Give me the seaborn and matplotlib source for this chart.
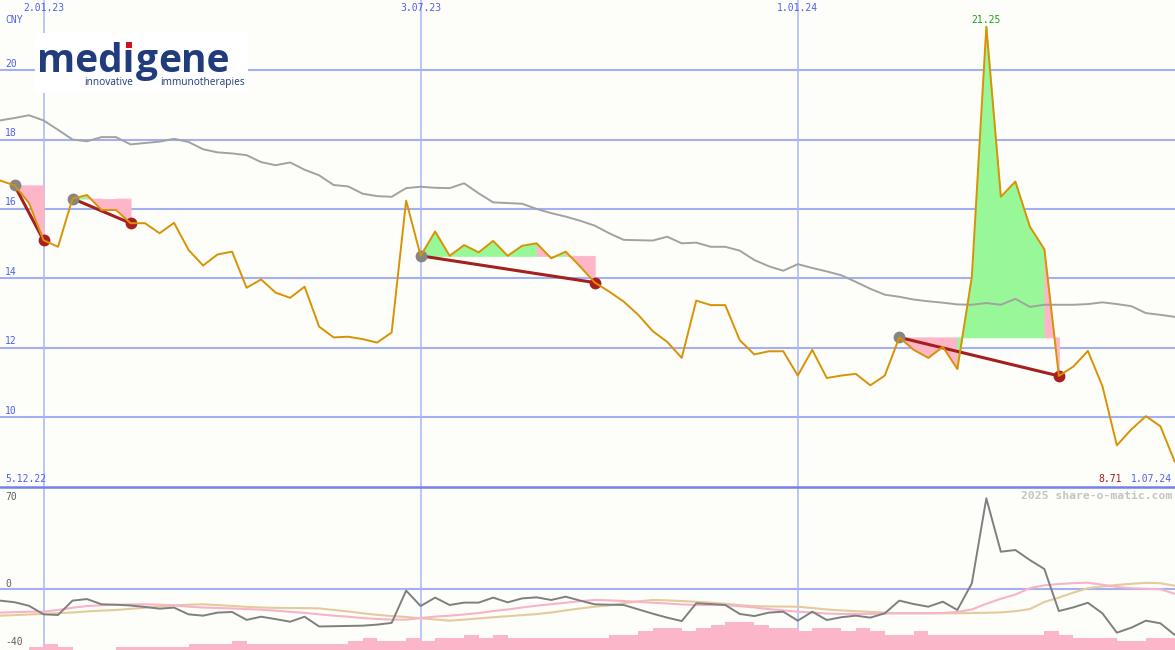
import numpy as np
import pandas as pd
import matplotlib
matplotlib.use("Agg")
import matplotlib.pyplot as plt
import matplotlib.dates as mdates
import matplotlib.transforms as mtransforms
from matplotlib.patches import Rectangle
from matplotlib.lines import Line2D
import seaborn as sns

# ---------------- data ----------------
dates = pd.date_range("2022-12-12", periods=82, freq="7D")

price = [16.82, 16.68, 16.17, 15.10, 14.91, 16.30, 16.40, 15.97, 15.97, 15.59,
         15.59, 15.30, 15.60, 14.82, 14.37, 14.69, 14.77, 13.73, 13.97, 13.59,
         13.44, 13.76, 12.61, 12.30, 12.32, 12.25, 12.15, 12.44, 16.24, 14.65,
         15.35, 14.65, 14.96, 14.75, 15.08, 14.65, 14.94, 15.01, 14.58, 14.77,
         14.34, 13.88, 13.62, 13.33, 12.95, 12.48, 12.17, 11.71, 13.36, 13.23,
         13.23, 12.22, 11.81, 11.90, 11.90, 11.20, 11.94, 11.13, 11.20, 11.25,
         10.92, 11.20, 12.30, 11.94, 11.71, 12.03, 11.39, 14.04, 21.25, 16.35,
         16.79, 15.49, 14.84, 11.19, 11.46, 11.91, 10.90, 9.19, 9.65, 10.03,
         9.74, 8.71]

moving_avg = [18.55, 18.62, 18.70, 18.55, 18.28, 18.00, 17.95, 18.07, 18.07, 17.86,
              17.90, 17.94, 18.02, 17.93, 17.72, 17.63, 17.60, 17.55, 17.35, 17.26,
              17.34, 17.13, 16.97, 16.69, 16.65, 16.44, 16.37, 16.35, 16.60, 16.64,
              16.61, 16.60, 16.74, 16.45, 16.19, 16.17, 16.15, 16.00, 15.88, 15.78,
              15.66, 15.52, 15.30, 15.11, 15.10, 15.09, 15.20, 15.01, 15.03, 14.91,
              14.91, 14.80, 14.53, 14.35, 14.22, 14.41, 14.30, 14.20, 14.09, 13.90,
              13.70, 13.53, 13.47, 13.39, 13.34, 13.30, 13.25, 13.24, 13.29, 13.24,
              13.41, 13.18, 13.24, 13.24, 13.24, 13.26, 13.31, 13.26, 13.20, 13.00,
              12.95, 12.89]

oscillator = [-8.6, -9.8, -12.5, -19.0, -19.5, -8.6, -7.4, -11.4, -11.7, -12.3,
              -13.4, -14.7, -13.9, -19.0, -20.0, -17.7, -17.2, -23.2, -20.8, -22.6,
              -24.6, -20.8, -28.2, -28.0, -27.8, -27.6, -26.8, -25.5, -1.0, -12.7,
              -6.3, -11.9, -10.1, -10.1, -6.3, -9.9, -6.9, -6.1, -8.1, -5.6,
              -8.6, -11.4, -11.7, -11.9, -15.2, -18.5, -21.5, -24.1, -10.6, -11.2,
              -11.9, -18.7, -20.3, -17.7, -17.0, -23.8, -17.0, -23.3, -21.2, -20.0,
              -21.5, -18.2, -8.6, -11.2, -13.2, -9.4, -15.7, 4.5, 69.0, 28.5,
              29.8, 22.2, 15.4, -16.5, -13.7, -10.2, -18.2, -32.9, -29.1, -23.8,
              -25.8, -34.7]

signal_pink = [-17.7, -17.3, -17.0, -17.0, -15.7, -14.0, -12.7, -12.1, -11.7, -11.5,
               -11.4, -11.7, -12.1, -13.2, -13.8, -14.2, -14.5, -15.0, -15.5, -16.2,
               -17.1, -17.9, -19.0, -20.0, -20.8, -21.8, -22.5, -23.0, -23.0, -21.8,
               -20.7, -20.0, -19.1, -18.0, -16.5, -15.3, -13.8, -12.4, -11.3, -10.2,
               -9.0, -8.1, -8.4, -8.9, -9.5, -10.2, -10.8, -11.5, -11.9, -11.9,
               -11.9, -12.8, -13.8, -15.0, -16.0, -17.0, -17.6, -18.4, -18.7, -18.7,
               -18.6, -18.4, -18.2, -18.2, -18.2, -18.0, -17.2, -15.3, -11.0, -7.2,
               -4.0, 0.9, 3.0, 4.0, 4.7, 5.0, 3.5, 1.8, 0.8, 0.4,
               0.0, -3.4]

signal_tan = [-20.0, -19.6, -19.1, -18.7, -18.1, -17.6, -16.8, -16.2, -15.7, -14.8,
              -14.0, -13.0, -12.3, -11.7, -11.4, -12.0, -12.6, -13.3, -13.8, -14.1,
              -14.2, -14.3, -14.5, -15.7, -16.8, -18.2, -19.4, -20.3, -21.0, -22.0,
              -22.9, -23.8, -23.0, -22.1, -21.2, -20.4, -19.6, -18.8, -17.6, -16.0,
              -14.5, -13.2, -12.2, -10.5, -9.2, -8.1, -8.4, -8.9, -9.5, -10.2,
              -11.0, -12.0, -12.8, -13.0, -13.1, -13.2, -14.2, -15.3, -16.0, -16.6,
              -17.1, -17.7, -18.2, -18.2, -18.2, -18.2, -18.2, -18.0, -17.8, -17.5,
              -16.6, -15.0, -9.6, -6.3, -2.5, 0.8, 2.2, 3.3, 4.2, 4.9,
              4.6, 2.7]

volume = [0, 0, 2, 4.5, 2, 0, 0, 0, 2, 2,
          2, 2, 2, 4.5, 4.5, 4.5, 6.8, 4.5, 4.5, 4.5,
          4.5, 4.5, 4.5, 4.5, 6.8, 8.9, 6.8, 6.8, 8.9, 6.8,
          8.9, 8.9, 11.4, 8.9, 11.4, 8.9, 8.9, 8.9, 8.9, 8.9,
          8.9, 8.9, 11.4, 11.4, 14.4, 16.9, 16.9, 14.4, 16.9, 19.0,
          21.5, 21.5, 19.0, 16.9, 16.9, 14.4, 16.9, 16.9, 14.4, 16.9,
          14.4, 11.4, 11.4, 14.4, 11.4, 11.4, 11.4, 11.4, 11.4, 11.4,
          11.4, 11.4, 14.4, 11.4, 8.9, 8.9, 8.9, 6.8, 6.8, 8.9,
          8.9]

buy_idx = [1, 5, 29, 62]
sell_idx = [3, 9, 41, 73]

price_ticks = [10, 12, 14, 16, 18, 20]
osc_ticks = [70, 0, -40]
date_ticks = ["2023-01-02", "2023-07-03", "2024-01-01"]
date_labels = ["2.01.23", "3.07.23", "1.01.24"]
currency = "CNY"
start_label = "5.12.22"
end_label = "1.07.24"
credit = "2025 share-o-matic.com"
logo_parts = ["med\u0131", "g", "ene"]
logo_sub = ["innovative", "immunotherapies"]

# ---------------- styling ----------------
W, H = 1175, 650
BG = "#FDFEF9"
GRID = "#A3B1F3"
VGRID = "#A9B5F7"
SEP = "#7282EA"
BLUE_TXT = "#4F5FEF"
ORANGE = "#D99205"
MA_GRAY = "#A2A2A2"
GREEN_FILL = "#98F898"
PINK_FILL = "#FDB6C8"
SIG_LINE = "#A3201F"
MONO = ["DejaVu Sans Mono"]

sns.set_style("white")
plt.rcParams["font.family"] = ["DejaVu Sans"]

fig = plt.figure(figsize=(W / 100, H / 100), dpi=100, facecolor=BG)
split = (H - 487) / H
ax = fig.add_axes([0, split, 1, 1 - split])
axb = fig.add_axes([0, 0, 1, split])
for a in (ax, axb):
    a.set_facecolor(BG)
    for s in a.spines.values():
        s.set_visible(False)

x = mdates.date2num(dates.to_pydatetime())
price = np.array(price)
df = pd.DataFrame({"x": x, "price": price, "ma": moving_avg, "osc": oscillator,
                   "pink": signal_pink, "tan": signal_tan})

ax.set_xlim(x[0], x[-1] + 0.05)
axb.set_xlim(x[0], x[-1] + 0.05)
ax.set_ylim(7.99, 22.02)
axb.set_ylim(-46.05, 77.6)

# grid
for t in price_ticks:
    ax.axhline(t, color=GRID, lw=1.5, zorder=0.5)
axb.axhline(0, color=GRID, lw=1.5, zorder=0.5)
for d in date_ticks:
    xv = mdates.date2num(pd.Timestamp(d).to_pydatetime())
    ax.axvline(xv, color=VGRID, lw=1.1, zorder=0.5)
    axb.axvline(xv, color=VGRID, lw=1.1, zorder=0.5)

# signal fills (per weekly segment)
for b, s in zip(buy_idx, sell_idx):
    level = price[b]
    for i in range(b, s):
        col = GREEN_FILL if price[i + 1] >= level else PINK_FILL
        ax.fill_between(x[i:i + 2], price[i:i + 2], level, facecolor=col,
                        edgecolor=col, lw=0.6, interpolate=True, zorder=1)

# moving average
sns.lineplot(data=df, x="x", y="ma", ax=ax, color=MA_GRAY, lw=1.4,
             estimator=None, legend=False, zorder=2)

# signal lines + markers
for b, s in zip(buy_idx, sell_idx):
    ax.plot([x[b], x[s]], [price[b], price[s]], color=SIG_LINE, lw=2.2,
            solid_capstyle="butt", zorder=3)
    ax.plot(x[b], price[b], "o", ms=8.5, color="#858585", mec="none", zorder=3.5)
    ax.plot(x[s], price[s], "o", ms=8.5, color="#AA1E1E", mec="none", zorder=3.5)

# price
sns.lineplot(data=df, x="x", y="price", ax=ax, color=ORANGE, lw=1.4,
             estimator=None, legend=False, zorder=4)

# lower panel
axb.bar(x[:-1], volume, width=7, align="edge", bottom=-46.05,
        color="#FBB6CA", lw=0, zorder=1)
sns.lineplot(data=df, x="x", y="tan", ax=axb, color="#E3CB9E", lw=1.5,
             estimator=None, legend=False, zorder=2)
sns.lineplot(data=df, x="x", y="pink", ax=axb, color="#F9B3C9", lw=1.5,
             estimator=None, legend=False, zorder=2.5)
sns.lineplot(data=df, x="x", y="osc", ax=axb, color="#7F7F7F", lw=1.4,
             estimator=None, legend=False, zorder=3)
for a in (ax, axb):
    a.set_xlabel("")
    a.set_ylabel("")
    a.set_xticks([])
    a.set_yticks([])

# separator
fig.add_artist(Line2D([0, 1], [split, split], color=SEP, lw=1.8, zorder=2))

# ---------------- texts ----------------
def fpx(px, py):
    return px / W, 1 - py / H

# y tick labels (main)
tr = mtransforms.blended_transform_factory(ax.transAxes, ax.transData)
tr_up = mtransforms.offset_copy(tr, fig=fig, x=0, y=1.5, units="dots")
for t in price_ticks:
    ax.text(5 / W, t, str(t), transform=tr_up, ha="left", va="bottom",
            color=BLUE_TXT, fontsize=7, family=MONO, zorder=6)

# lower panel labels
trb = mtransforms.blended_transform_factory(axb.transAxes, axb.transData)
for t in osc_ticks:
    off = 5 if t == 0 else 0
    tb = mtransforms.offset_copy(trb, fig=fig, x=0, y=off, units="dots")
    axb.text(5 / W, t, str(t), transform=tb, ha="left", va="center",
             color="#606060", fontsize=7, family=MONO, zorder=6)

# date labels at top
trx = mtransforms.blended_transform_factory(ax.transData, fig.transFigure)
for d, lab in zip(date_ticks, date_labels):
    xv = mdates.date2num(pd.Timestamp(d).to_pydatetime())
    fig.text(xv, 1 - 8 / H, lab, transform=trx, ha="center", va="center",
             color=BLUE_TXT, fontsize=7, family=MONO)

fig.text(*fpx(5, 20), currency, ha="left", va="center", color=BLUE_TXT,
         fontsize=7, family=MONO)
fig.text(*fpx(5, 479), start_label, ha="left", va="center", color=BLUE_TXT,
         fontsize=7, family=MONO)
fig.text(*fpx(1172, 479), end_label, ha="right", va="center", color=BLUE_TXT,
         fontsize=7, family=MONO)
fig.text(*fpx(1122, 479), f"{price[-1]:.2f}", ha="right", va="center",
         color="#A31C1C", fontsize=7, family=MONO)
fig.text(*fpx(1172, 496), credit, ha="right", va="center", color="#C4C4C4",
         fontsize=8.2, family=MONO, fontweight="bold")

imax = int(np.argmax(price))
ax.annotate(f"{price[imax]:.2f}", (x[imax], price[imax]), xytext=(0, 7),
            textcoords="offset pixels", ha="center", va="center",
            color="#1E9E1E", fontsize=7, family=MONO, zorder=6)

# logo
fig.add_artist(Rectangle(fpx(35, 93), 213 / W, 60 / H, transform=fig.transFigure,
                         facecolor="white", edgecolor="none", zorder=4))
LOGO = "#203C7C"
LOGOF = ["Open Sans", "DejaVu Sans"]
logo_fs = 28
r = fig.canvas.get_renderer()


def text_w(s):
    t = fig.text(0, 0, s, fontsize=logo_fs, family=LOGOF, fontweight="bold")
    w = t.get_window_extent(r).width
    t.remove()
    return w


x0 = 37
prefix = ""
for part in logo_parts:
    px = x0 + (text_w(prefix) + 1.5 if prefix else 0)
    fig.text(*fpx(px, 72), part, ha="left", va="baseline", color=LOGO,
             fontsize=logo_fs, family=LOGOF, fontweight="bold", zorder=5)
    prefix += part
w_med = text_w("med")
w_medi = text_w(logo_parts[0])
cx = x0 + (w_med + w_medi) / 2
fig.add_artist(Rectangle(fpx(cx - 3, 48), 6 / W, 6 / H, transform=fig.transFigure,
                         facecolor="#D5101E", edgecolor="none", zorder=6))
fig.text(*fpx(133, 85), logo_sub[0], ha="right", va="baseline", color=LOGO,
         fontsize=7.3, family=LOGOF, zorder=5)
fig.text(*fpx(160, 85), logo_sub[1], ha="left", va="baseline", color=LOGO,
         fontsize=7.3, family=LOGOF, zorder=5)

fig.savefig("out.png", dpi=100, facecolor=BG)
